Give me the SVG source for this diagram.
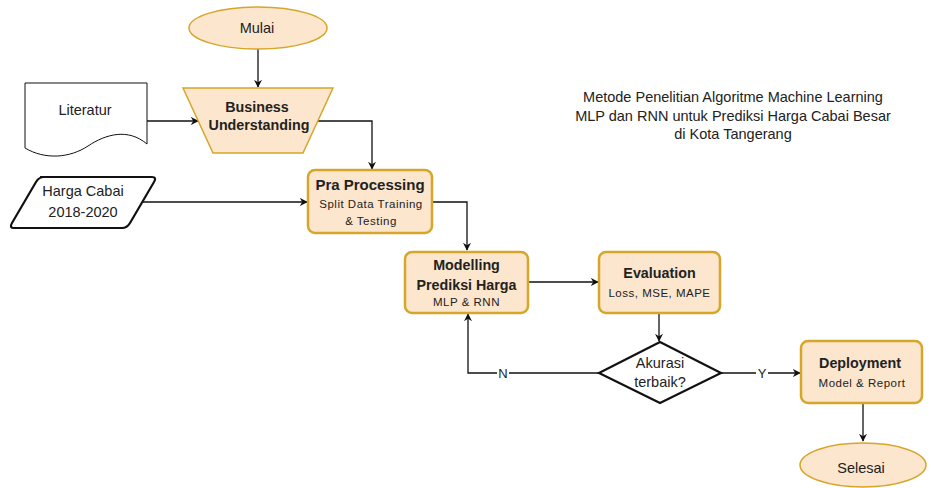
<svg xmlns="http://www.w3.org/2000/svg" width="931" height="488" viewBox="0 0 931 488">
<defs>
<marker id="arr" viewBox="0 0 10 10" refX="9" refY="5" markerWidth="8" markerHeight="8" markerUnits="userSpaceOnUse" orient="auto">
<path d="M0,0 L10,5 L0,10 L3,5 Z" fill="#111"/>
</marker>
<style>
.pe{fill:#fce6cd;stroke:#d6a62b;stroke-width:1.5}
.pb{fill:#fce6cd;stroke:#d6a62b;stroke-width:2.5}
.wb{fill:#fff;stroke:#111;stroke-width:1}
.bk{fill:#fff;stroke:#111;stroke-width:2.2}
.e{fill:none;stroke:#111;stroke-width:1.3}
text{font-family:"Liberation Sans",Arial,sans-serif;fill:#222;text-anchor:middle}
.t{font-size:14.5px}
.b{font-size:14.3px;font-weight:bold}
.s{font-size:11.5px;letter-spacing:0.5px}
.lb{font-size:13px;fill:#222}
</style>
</defs>
<rect width="931" height="488" fill="#fff"/>

<g id="connectors">
<line class="e" x1="258" y1="49" x2="258" y2="87" marker-end="url(#arr)"/>
<line class="e" x1="147" y1="121" x2="198" y2="121" marker-end="url(#arr)"/>
<polyline class="e" points="313,121 372,121 372,169" marker-end="url(#arr)"/>
<line class="e" x1="142" y1="202" x2="307" y2="202" marker-end="url(#arr)"/>
<polyline class="e" points="432,202 467,202 467,250" marker-end="url(#arr)"/>
<line class="e" x1="528" y1="282" x2="598" y2="282" marker-end="url(#arr)"/>
<line class="e" x1="659" y1="313" x2="659" y2="341" marker-end="url(#arr)"/>
<polyline class="e" points="599,373 468,373 468,314" marker-end="url(#arr)"/>
<line class="e" x1="721" y1="373" x2="800" y2="373" marker-end="url(#arr)"/>
<line class="e" x1="863" y1="403" x2="863" y2="441" marker-end="url(#arr)"/>
<rect x="497" y="366" width="12" height="14" fill="#fff"/>
<text class="lb" x="503" y="378">N</text>
<rect x="756" y="366" width="12" height="14" fill="#fff"/>
<text class="lb" x="762" y="378">Y</text>
</g>

<g id="mulai">
<ellipse class="pe" cx="258" cy="28" rx="69" ry="21"/>
<text class="t" x="257" y="33">Mulai</text>
</g>

<g id="literatur">
<path class="wb" d="M25,83 H147 V144 C128,128 106,134 88,146 C70,158 45,160 25,148 Z"/>
<text class="t" x="85" y="115">Literatur</text>
</g>

<g id="business">
<polygon class="pe" points="183,88 333,88 303,153 213,153"/>
<text class="b" x="257" y="112">Business</text>
<text class="b" x="259" y="130">Understanding</text>
</g>

<g id="harga">
<path class="bk" d="M40,177 H152 Q157,177 154,182 L130,223 Q127,228 122,228 H14 Q9,228 12,223 L36,182 Q39,177 44,177 Z"/>
<text class="t" x="83" y="196">Harga Cabai</text>
<text class="t" x="83" y="217">2018-2020</text>
</g>

<g id="pra">
<rect class="pb" x="308" y="170" width="124" height="63" rx="7"/>
<text class="b" x="370" y="190" style="font-size:15px">Pra Processing</text>
<text class="s" x="371" y="208">Split Data Training</text>
<text class="s" x="371" y="225">&amp; Testing</text>
</g>

<g id="modelling">
<rect class="pb" x="405" y="252" width="123" height="61" rx="7"/>
<text class="b" x="466.5" y="270">Modelling</text>
<text class="b" x="466.5" y="290">Prediksi Harga</text>
<text class="s" x="466.5" y="306">MLP &amp; RNN</text>
</g>

<g id="evaluation">
<rect class="pb" x="599" y="252" width="121" height="61" rx="7"/>
<text class="b" x="659.5" y="278">Evaluation</text>
<text class="s" x="659.5" y="297">Loss, MSE, MAPE</text>
</g>

<g id="akurasi">
<polygon class="bk" points="660,342 721,373 660,403 599,373"/>
<text class="t" x="660" y="368">Akurasi</text>
<text class="t" x="660" y="387">terbaik?</text>
</g>

<g id="deployment">
<rect class="pb" x="801" y="341" width="121" height="62" rx="7"/>
<text class="b" x="860" y="368">Deployment</text>
<text class="s" x="862" y="387">Model &amp; Report</text>
</g>

<g id="selesai">
<ellipse class="pe" cx="863" cy="465" rx="63" ry="22"/>
<text class="t" x="861" y="473">Selesai</text>
</g>

<g id="title">
<text class="t" x="733" y="102">Metode Penelitian Algoritme Machine Learning</text>
<text class="t" x="733" y="121">MLP dan RNN untuk Prediksi Harga Cabai Besar</text>
<text class="t" x="733" y="139">di Kota Tangerang</text>
</g>
</svg>
